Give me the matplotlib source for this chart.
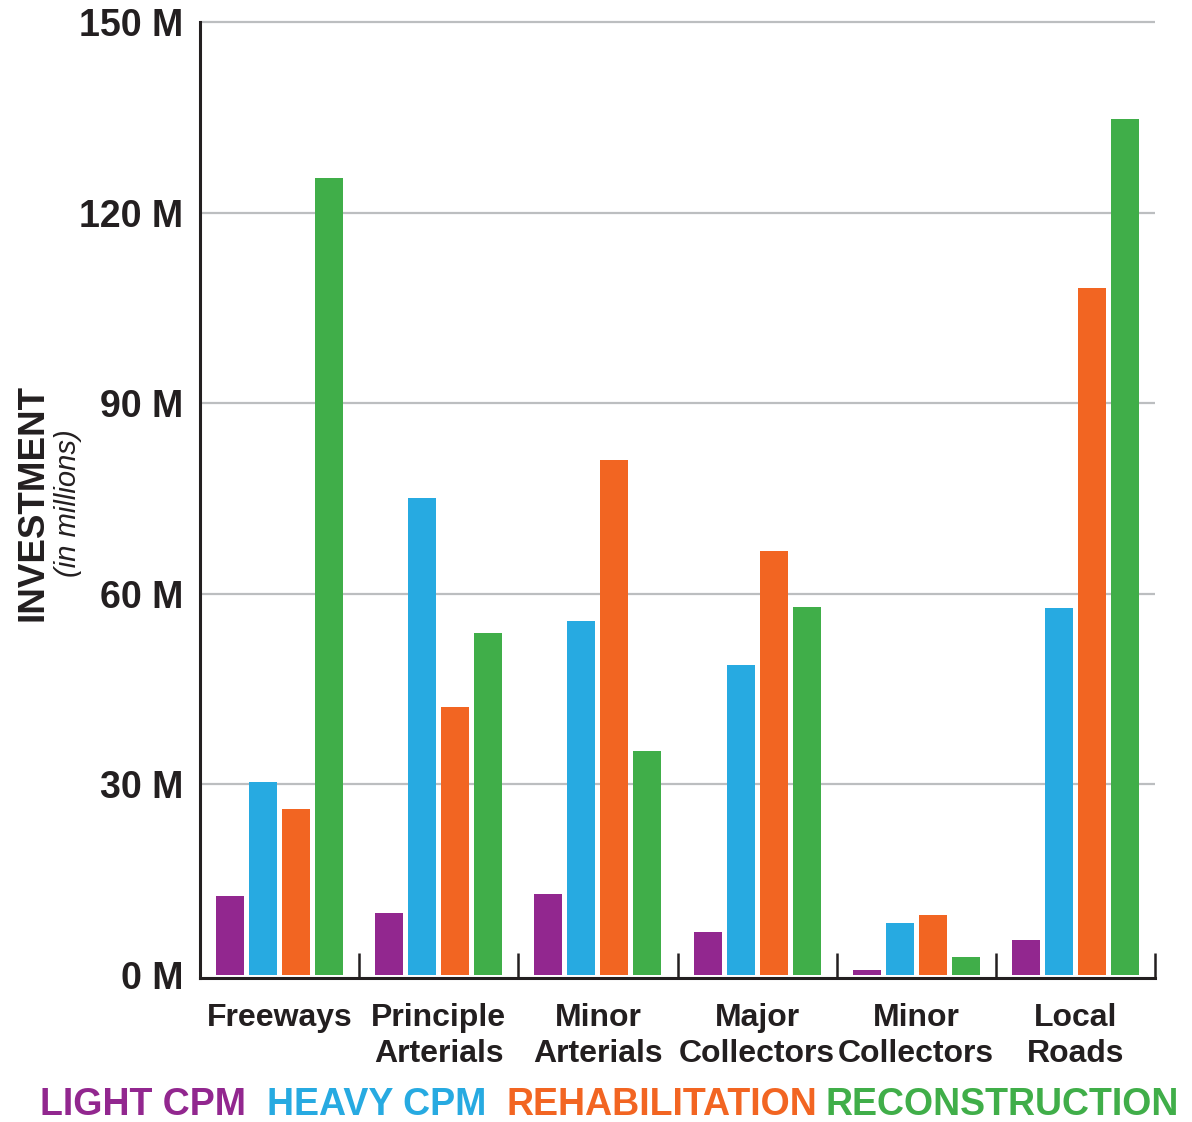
import matplotlib
matplotlib.use("Agg")
import matplotlib.pyplot as plt
import numpy as np

# Data (millions)
categories = ["Freeways", "Principle\nArterials", "Minor\nArterials",
              "Major\nCollectors", "Minor\nCollectors", "Local\nRoads"]
series_names = ["LIGHT CPM", "HEAVY CPM", "REHABILITATION", "RECONSTRUCTION"]
light_cpm = [12.4, 9.8, 12.7, 6.8, 0.8, 5.5]
heavy_cpm = [30.4, 75.0, 55.7, 48.8, 8.2, 57.7]
rehabilitation = [26.1, 42.2, 81.0, 66.7, 9.4, 108.2]
reconstruction = [125.5, 53.8, 35.2, 58.0, 2.8, 134.8]
y_ticks = [0, 30, 60, 90, 120, 150]
y_tick_labels = ["0 M", "30 M", "60 M", "90 M", "120 M", "150 M"]

COLORS = ["#92278F", "#27AAE1", "#F26522", "#40AE49"]
TEXT = "#231F20"
GRID = "#BCBEC0"

plt.rcParams["font.family"] = ["Liberation Sans", "DejaVu Sans"]

W, H = 1192, 1122
fig = plt.figure(figsize=(W / 100, H / 100), dpi=100)

# axes placed in pixel terms: x 200..1155, y 18.8..978
ax = fig.add_axes([200 / W, 1 - 978.2 / H, 955 / W, (978.2 - 18.8) / H])

x = np.arange(len(categories))
step = 0.2075
width = 0.176
all_series = [light_cpm, heavy_cpm, rehabilitation, reconstruction]
for i, (vals, col) in enumerate(zip(all_series, COLORS)):
    ax.bar(x + (i - 1.5) * step, vals, width=width, color=col, zorder=3,
           linewidth=0)

ax.set_xlim(-0.5, 5.5)
ax.set_ylim(-0.5, 150.5)

# y axis
ax.set_yticks(y_ticks)
ax.set_yticklabels(y_tick_labels, fontsize=27, fontweight="bold", color=TEXT)
ax.tick_params(axis="y", length=0, pad=12)
ax.yaxis.grid(True, color=GRID, linewidth=1.6, zorder=0)
ax.yaxis.get_gridlines()[0].set_visible(False)
ax.set_axisbelow(True)

# x axis: boundary ticks pointing in, labels at group centers
ax.set_xticks(np.arange(-0.5, 6.0, 1.0))
ax.set_xticklabels([])
ax.tick_params(axis="x", which="major", direction="in", length=18,
               width=1.8, color=TEXT)
ax.set_xticks(x, minor=True)
ax.set_xticklabels(categories, minor=True, fontsize=23, fontweight="bold",
                   color=TEXT, linespacing=1.25)
ax.tick_params(axis="x", which="minor", length=0, pad=18)

for side in ["top", "right"]:
    ax.spines[side].set_visible(False)
for side in ["left", "bottom"]:
    ax.spines[side].set_color(TEXT)
    ax.spines[side].set_linewidth(2.2)
ax.spines["left"].set_bounds(-0.5, 150)

# y label
fig.text(33 / W, 1 - 503 / H, "INVESTMENT", rotation=90, fontsize=26.5,
         fontweight="bold", color=TEXT, ha="center", va="center")
fig.text(68 / W, 1 - 503 / H, "(in millions)", rotation=90, fontsize=21,
         style="italic", color=TEXT, ha="center", va="center")

# colored text legend
legend_x = [40, 267, 506, 826]
for name, col, lx in zip(series_names, COLORS, legend_x):
    fig.text(lx / W, 1 - 1105 / H, name, fontsize=27, fontweight="bold",
             color=col, ha="left", va="center")

fig.savefig("out.png", dpi=100)
